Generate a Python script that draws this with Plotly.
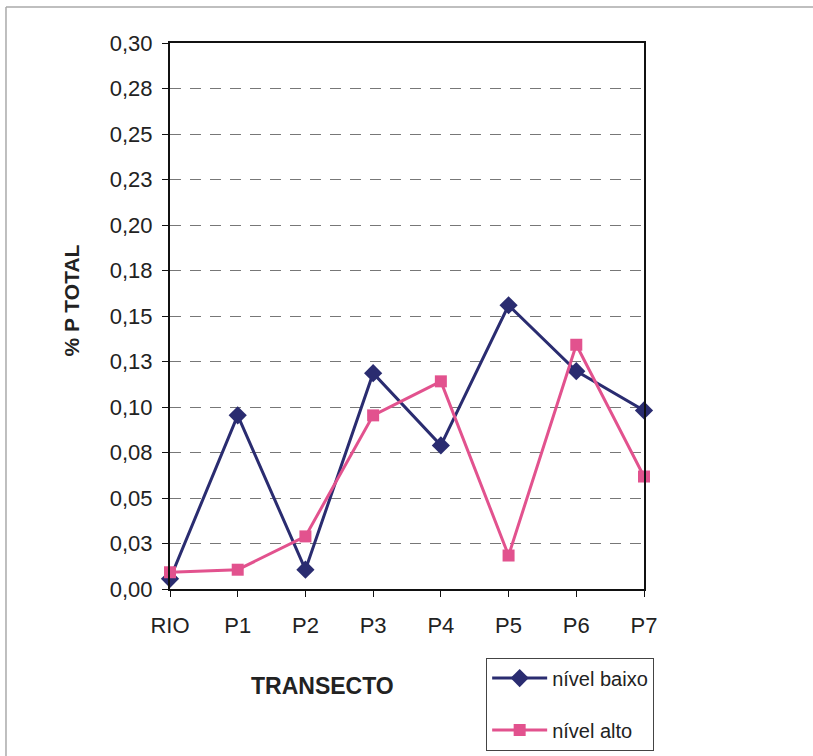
import plotly.graph_objects as go

# Sampling points along the transect
transecto = ["RIO", "P1", "P2", "P3", "P4", "P5", "P6", "P7"]

# Total phosphorus (%) at low and high water level
nivel_baixo = [0.0056, 0.0954, 0.0106, 0.1186, 0.0789, 0.1559, 0.1197, 0.0981]
nivel_alto = [0.0092, 0.0106, 0.0289, 0.0954, 0.1141, 0.0184, 0.1342, 0.0618]

# Y axis ticks (labels rounded to two decimals, comma separator)
y_tickvals = [0.0, 0.025, 0.05, 0.075, 0.10, 0.125, 0.15, 0.175, 0.20, 0.225, 0.25, 0.275, 0.30]
y_ticktext = ["0,00", "0,03", "0,05", "0,08", "0,10", "0,13", "0,15", "0,18",
              "0,20", "0,23", "0,25", "0,28", "0,30"]

BLUE = "#2A2C70"
PINK = "#E2528E"
FONT = "Liberation Sans, Arial, sans-serif"

fig = go.Figure()
fig.add_trace(go.Scatter(
    x=transecto, y=nivel_baixo, name="nível baixo", mode="lines+markers",
    line=dict(color=BLUE, width=3),
    marker=dict(symbol="diamond", size=14, color=BLUE),
    legendgroup="a", cliponaxis=False,
))
fig.add_trace(go.Scatter(
    x=transecto, y=nivel_alto, name="nível alto", mode="lines+markers",
    line=dict(color=PINK, width=3),
    marker=dict(symbol="square", size=12, color=PINK),
    legendgroup="b", cliponaxis=False,
))

fig.update_layout(
    width=813, height=756,
    margin=dict(l=170, r=169, t=43, b=167, autoexpand=False),
    paper_bgcolor="white", plot_bgcolor="white",
    font=dict(family=FONT, size=22, color="#222"),
    showlegend=True,
    legend=dict(
        x=0.667, y=-0.1256, xanchor="left", yanchor="top",
        bordercolor="#444", borderwidth=1, bgcolor="white",
        font=dict(size=20, color="#222"),
        traceorder="grouped", tracegroupgap=23,
        itemwidth=55,
    ),
    xaxis=dict(
        type="category", range=[0, 7],
        showline=True, linecolor="#111", linewidth=2, mirror=True,
        ticks="outside", ticklen=6, tickcolor="#111", tickwidth=1,
        showgrid=False, zeroline=False, ticklabelstandoff=10,
        tickfont=dict(size=22, color="#222"),
    ),
    yaxis=dict(
        range=[0, 0.30],
        tickvals=y_tickvals, ticktext=y_ticktext,
        showline=True, linecolor="#111", linewidth=2, mirror=True,
        ticks="outside", ticklen=6, tickcolor="#111", tickwidth=1,
        showgrid=True, gridcolor="#777", gridwidth=1, griddash="11px,9px",
        zeroline=False, ticklabelstandoff=5,
        tickfont=dict(size=22, color="#222"),
    ),
    annotations=[
        dict(text="<b>TRANSECTO</b>", x=0.3207, y=-0.177, xref="paper", yref="paper",
             xanchor="center", yanchor="middle", showarrow=False,
             font=dict(size=23, color="#222")),
        dict(text="<b>% P TOTAL</b>", x=-0.207, y=0.528, xref="paper", yref="paper",
             xanchor="center", yanchor="middle", showarrow=False, textangle=-90,
             font=dict(size=21, color="#222")),
    ],
    shapes=[
        # thin outer frame (top and left edges)
        dict(type="line", xref="paper", yref="paper", x0=-0.346, x1=1.36, y0=1.066, y1=1.066,
             line=dict(color="#aaa", width=1.5)),
        dict(type="line", xref="paper", yref="paper", x0=-0.346, x1=-0.346, y0=1.066, y1=-0.31,
             line=dict(color="#aaa", width=1.5)),
    ],
)

fig.write_html("out.html")
